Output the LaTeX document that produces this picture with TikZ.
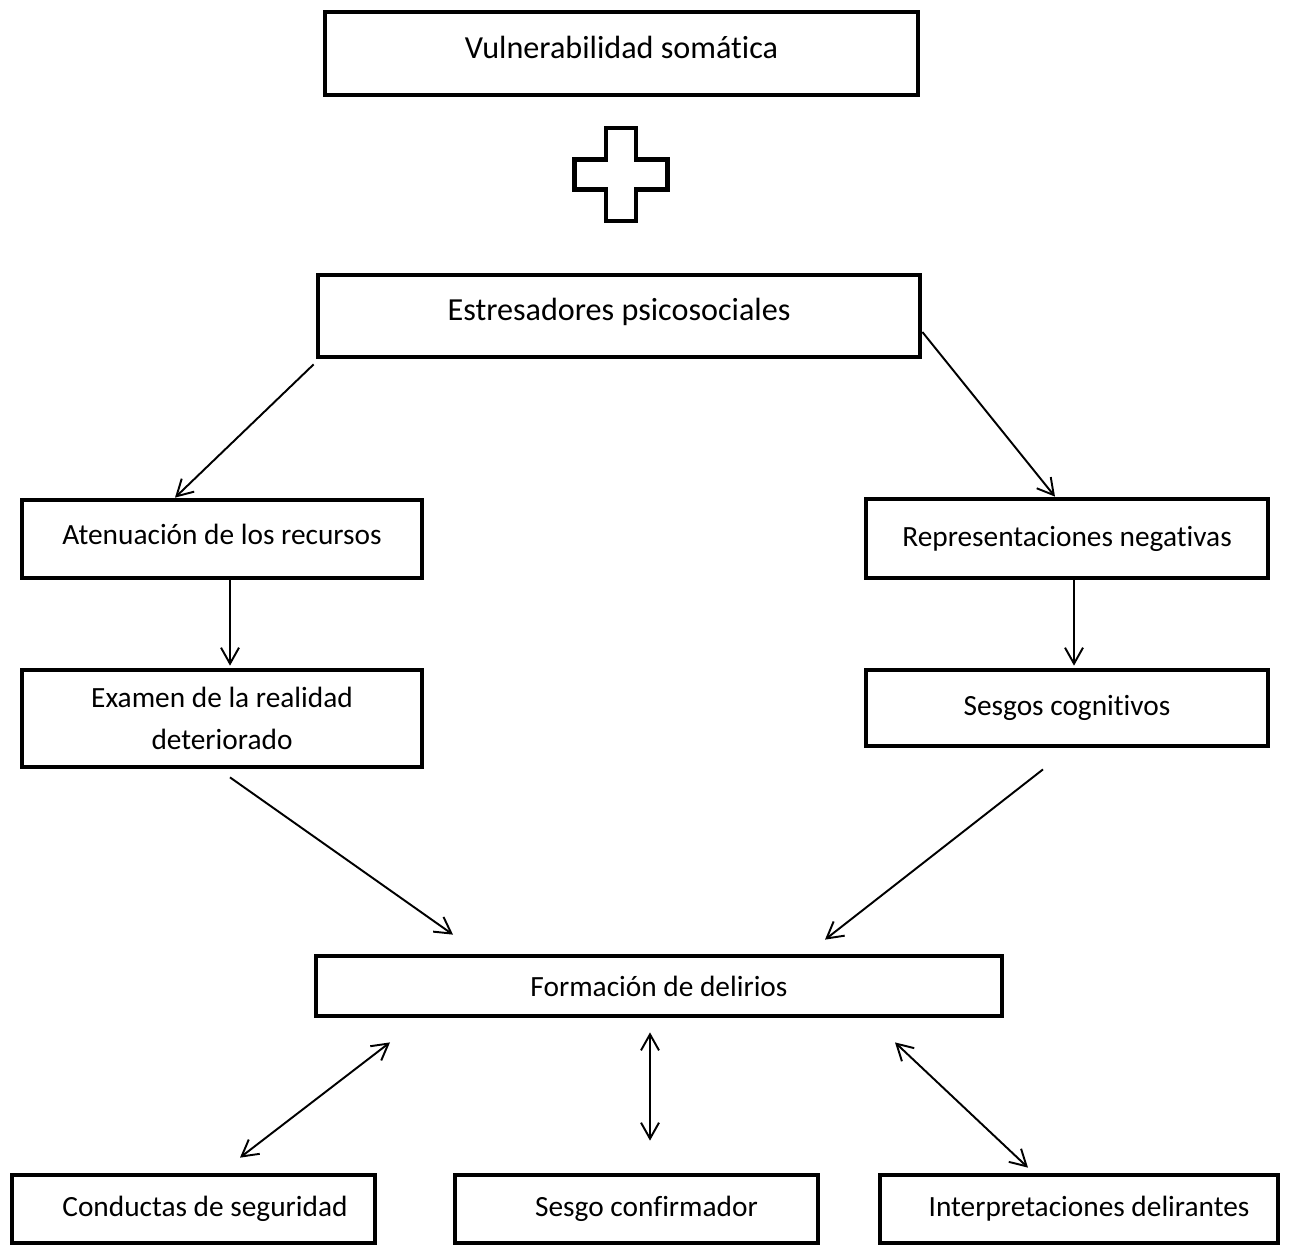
\documentclass[tikz,border=0pt]{standalone}
\usepackage{fontspec}
\setmainfont{Carlito}[Ligatures=CommonOff]
\usetikzlibrary{arrows.meta, calc}

\tikzset{
  caja/.style={draw, line width=2.7pt, inner sep=0pt, align=center,
    font=\fontsize{16.7}{24}\selectfont},
  cajagrande/.style={caja, font=\fontsize{18.3}{24}\selectfont},
}

\begin{document}
\begin{tikzpicture}[>={Straight Barb[length=3.2mm, width=3.6mm]}, line width=1.1pt]
  \useasboundingbox (0,0) rectangle (25.92,-24.9);
  % --- arriba: vulnerabilidad + estresores ---
  \node[cajagrande, minimum width=11.86cm, minimum height=1.66cm, text depth=0.24cm] (vuln) at (12.43,-1.07) {Vulnerabilidad somática};
  \coordinate (plus) at (12.42,-3.49);
  \draw[line width=2.8pt] ($(plus)+(-0.3,0.93)$) -- ++(0.6,0) -- ++(0,-0.63) -- ++(0.63,0)
    -- ++(0,-0.6) -- ++(-0.63,0) -- ++(0,-0.63) -- ++(-0.6,0) -- ++(0,0.63) -- ++(-0.63,0)
    -- ++(0,0.6) -- ++(0.63,0) -- cycle;
  \node[cajagrande, minimum width=12.04cm, minimum height=1.64cm, text depth=0.26cm] (estr) at (12.38,-6.32) {Estresadores psicosociales};
  % --- ramas izquierda y derecha ---
  \node[caja, minimum width=8cm, minimum height=1.56cm, text depth=0.2cm] (aten) at (4.44,-10.78) {Atenuación de los recursos};
  \node[caja, minimum width=8.04cm, minimum height=1.58cm] (repr) at (21.34,-10.77) {Representaciones negativas};
  \node[caja, minimum width=8cm, minimum height=1.94cm] (exam) at (4.44,-14.37) {Examen de la realidad\\deteriorado};
  \node[caja, minimum width=8.04cm, minimum height=1.52cm] (sesg) at (21.34,-14.16) {Sesgos cognitivos};
  % --- abajo: delirios y consecuencias ---
  \node[caja, minimum width=13.72cm, minimum height=1.2cm] (form) at (13.18,-19.72) {Formación de delirios};
  \node[caja, minimum width=7.26cm, minimum height=1.36cm] (cond) at (3.87,-24.18) {\hspace*{0.46cm}Conductas de seguridad};
  \node[caja, minimum width=7.26cm, minimum height=1.36cm] (conf) at (12.73,-24.18) {\hspace*{0.4cm}Sesgo confirmador};
  \node[caja, minimum width=7.96cm, minimum height=1.36cm] (interp) at (21.58,-24.18) {\hspace*{0.4cm}Interpretaciones delirantes};
  % --- flechas ---
  \draw[->] ([shift={(-0.04,-0.1)}]estr.south west) -- ([xshift=-0.94cm]aten.north);
  \draw[->] ([yshift=-0.32cm]estr.east) -- ([xshift=-0.24cm]repr.north);
  \draw[->] ([xshift=0.16cm]aten.south) -- ([xshift=0.16cm, yshift=0.04cm]exam.north);
  \draw[->] ([xshift=0.14cm]repr.south) -- ([xshift=0.14cm, yshift=0.04cm]sesg.north);
  \draw[->] ([shift={(0.16,-0.16)}]exam.south) -- ([shift={(-4.12,0.38)}]form.north);
  \draw[->] ([shift={(-0.48,-0.42)}]sesg.south) -- ([shift={(3.32,0.28)}]form.north);
  \draw[<->] ([shift={(-5.38,-0.48)}]form.south) -- ([shift={(0.93,0.3)}]cond.north);
  \draw[<->] ([shift={(-0.18,-0.28)}]form.south) -- ([shift={(0.27,0.64)}]conf.north);
  \draw[<->] ([shift={(4.72,-0.48)}]form.south) -- ([shift={(-1.02,0.1)}]interp.north);
\end{tikzpicture}
\end{document}
